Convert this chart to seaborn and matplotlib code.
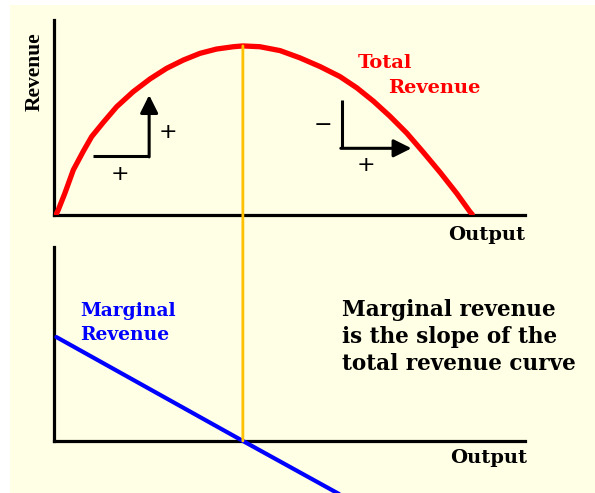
"""
Total revenue vs marginal revenue - textbook diagram.
"""

import matplotlib
matplotlib.use("Agg")
import matplotlib.pyplot as plt
from matplotlib.patches import Rectangle, ConnectionPatch
import pandas as pd
import seaborn as sns


# ──────────────────────────────────────────────
# Data
# ──────────────────────────────────────────────

output_tr = [0.4, 0.9, 2.3, 4.1, 6.2, 8.0, 10.5, 13.3, 16.8, 20.4,
             23.9, 27.5, 31.0, 34.5, 38.1, 40.1, 43.7, 48.0, 52.2, 56.5,
             60.7, 64.3, 67.8, 71.3, 74.9, 78.4, 82.0, 85.5, 88.3, 88.8]
total_revenue = [0.0, 2.6, 11.1, 23.1, 32.6, 40.2, 47.6, 55.5, 63.2, 69.8,
                 75.2, 79.5, 82.9, 85.1, 86.3, 86.7, 86.3, 84.3, 80.6, 76.1,
                 71.0, 65.2, 58.4, 50.7, 42.0, 32.2, 21.8, 11.1, 1.7, 0.3]

output_mr = [0.5, 40.1, 75.0]
marginal_revenue = [53.3, 0.0, -46.5]

peak_output = 40.1
peak_revenue = 86.7

tr_df = pd.DataFrame({"Output": output_tr, "Revenue": total_revenue})
mr_df = pd.DataFrame({"Output": output_mr, "Revenue": marginal_revenue})

# ──────────────────────────────────────────────
# Styling
# ──────────────────────────────────────────────

sns.set_theme(style="white")
plt.rcParams["font.family"] = ["DejaVu Serif"]
plt.rcParams["text.color"] = "black"

BG = "#FFFFE5"
RED = "#FF0000"
BLUE = "#0000FF"
GOLD = "#FFC000"

W, H = 595, 493
fig = plt.figure(figsize=(W / 100, H / 100), dpi=100, facecolor="white")
fig.patches.append(Rectangle((10 / W, 0), 1, 1 - 5 / H, transform=fig.transFigure,
                             facecolor=BG, edgecolor="none", zorder=-10))

ax_top = fig.add_axes([54 / W, 1 - 215 / H, 471 / W, 195 / H])
ax_bot = fig.add_axes([54 / W, 0, 471 / W, 246 / H])

for ax in (ax_top, ax_bot):
    ax.set_facecolor("none")
    ax.patch.set_alpha(0)
    for side in ("top", "right"):
        ax.spines[side].set_visible(False)
    for side in ("left", "bottom"):
        ax.spines[side].set_color("black")
        ax.spines[side].set_linewidth(2.3)

# ──────────────────────────────────────────────
# Top panel: total revenue
# ──────────────────────────────────────────────

sns.lineplot(data=tr_df, x="Output", y="Revenue", ax=ax_top, color=RED,
             linewidth=3.8, sort=False, zorder=3)
ax_top.set_xlim(0, 100)
ax_top.set_ylim(0, 100)
ax_top.set_xticks([])
ax_top.set_yticks([])
ax_top.set_xlabel("")
ax_top.set_ylabel("")

ax_top.text(64.5, 78, "Total", color=RED, fontsize=14, fontweight="bold",
            ha="left", va="center")
ax_top.text(70.9, 65.1, "Revenue", color=RED, fontsize=14, fontweight="bold",
            ha="left", va="center")
ax_top.text(-4.0, 73.3, "Revenue", rotation=90, fontsize=15.5, fontweight="bold",
            family=["Liberation Serif"], ha="center", va="center", clip_on=False)
ax_top.text(100, -10.3, "Output", fontsize=14, fontweight="bold",
            ha="right", va="center", clip_on=False)

# slope arrows
arrow = dict(arrowstyle="-|>,head_length=0.9,head_width=0.45", color="black",
             lw=2.2, shrinkA=0, shrinkB=0)
ax_top.plot([8.3, 20.2], [30.4, 30.4], color="black", lw=2.2, solid_capstyle="butt")
ax_top.annotate("", xy=(20.2, 61.5), xytext=(20.2, 29.8), arrowprops=arrow)
ax_top.plot([61.1, 61.1], [59.0, 34.2], color="black", lw=2.2, solid_capstyle="butt")
ax_top.annotate("", xy=(75.9, 34.2), xytext=(60.9, 34.2), arrowprops=arrow)

sign = dict(fontsize=16, family=["DejaVu Sans"], ha="center", va="center")
ax_top.text(24.2, 42.6, "+", **sign)
ax_top.text(14.0, 21.0, "+", **sign)
ax_top.text(57.1, 46.2, "−", **sign)
ax_top.text(66.2, 25.6, "+", **sign)

# ──────────────────────────────────────────────
# Bottom panel: marginal revenue
# ──────────────────────────────────────────────

sns.lineplot(data=mr_df, x="Output", y="Revenue", ax=ax_bot, color=BLUE,
             linewidth=3.0, sort=False, zorder=3)
ax_bot.set_xlim(0, 100)
ax_bot.set_ylim(-26.7, 99.5)
ax_bot.set_xticks([])
ax_bot.set_yticks([])
ax_bot.set_xlabel("")
ax_bot.set_ylabel("")
ax_bot.spines["bottom"].set_position(("data", 0))
ax_bot.spines["left"].set_bounds(0, 99.5)

ax_bot.text(5.5, 66.7, "Marginal", color=BLUE, fontsize=13.5, fontweight="bold",
            ha="left", va="center")
ax_bot.text(5.5, 54.4, "Revenue", color=BLUE, fontsize=13.5, fontweight="bold",
            ha="left", va="center")
ax_bot.text(61.1, 53.2, "Marginal revenue\nis the slope of the\ntotal revenue curve",
            fontsize=15.5, fontweight="bold", ha="left", va="center",
            linespacing=1.3)
ax_bot.text(100.4, -8.7, "Output", fontsize=14, fontweight="bold",
            ha="right", va="center", clip_on=False)

# vertical guide from TR peak down to where MR crosses zero
guide = ConnectionPatch(xyA=(peak_output, peak_revenue), coordsA=ax_top.transData,
                        xyB=(peak_output, 0), coordsB=ax_bot.transData,
                        color=GOLD, lw=2.0, zorder=2)
fig.add_artist(guide)

fig.savefig("out.png", dpi=100, facecolor=fig.get_facecolor())
